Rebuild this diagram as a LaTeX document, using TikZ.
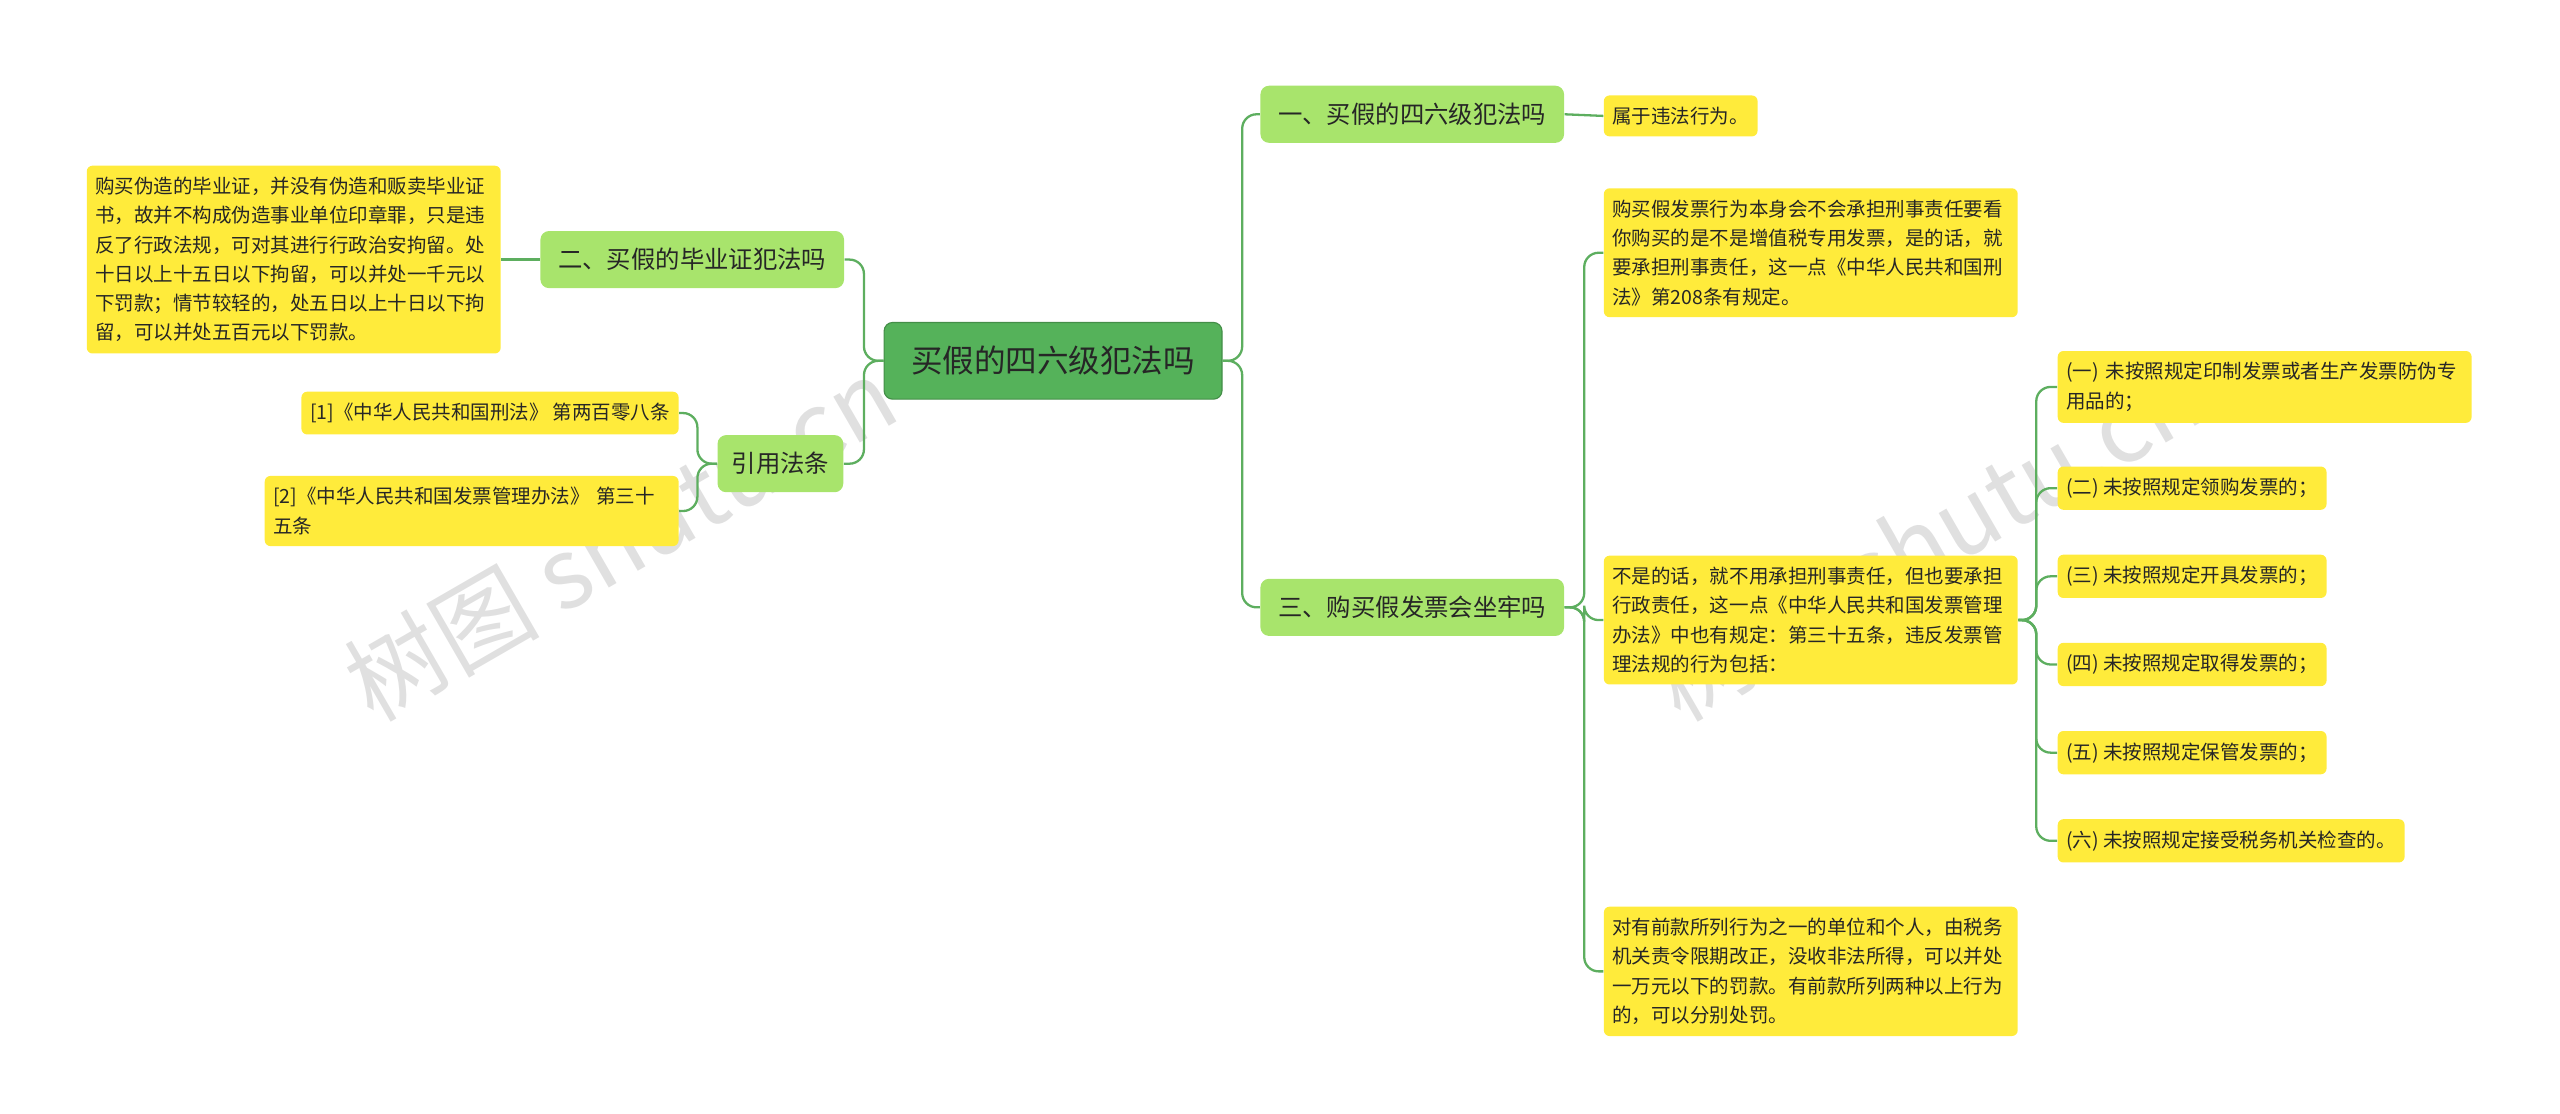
\documentclass[tikz,border=0pt]{standalone}
\usepackage{fontspec}
\setmainfont{Noto Sans CJK SC}
\usetikzlibrary{positioning}
\definecolor{rootgreen}{HTML}{55B25A}
\definecolor{subgreen}{HTML}{A8E46C}
\definecolor{leafyellow}{HTML}{FFEB3B}
\definecolor{linkgreen}{HTML}{5DAE5F}
\begin{document}
\begin{tikzpicture}[x=0.02cm,y=-0.02cm,font=\fontsize{6.8pt}{10.2pt}\selectfont]

        % Setup the styles for the boxes
        \tikzset{root box/.style={draw=rootgreen!80!black, fill=rootgreen, rounded corners=3pt,
                                  minimum width=4.14cm, minimum height=0.94cm,
                                  font=\fontsize{11pt}{13pt}\selectfont, text=black!85},
                 sub box/.style={fill=subgreen, rounded corners=3pt, minimum height=0.7cm,
                                 inner xsep=4pt, font=\fontsize{8.5pt}{10pt}\selectfont, text=black!85},
                 leaf box/.style={fill=leafyellow, rounded corners=2pt, inner xsep=3pt, inner ysep=4pt,
                                  align=left, text=black!85},
                 big box/.style={leaf box, text width=4.86cm},
                 link/.style={draw=linkgreen, line width=0.8pt, rounded corners=5pt}}

        \useasboundingbox (0,0) rectangle (1568,682);

        % Watermarks
        \node[text=black!12, rotate=30, font=\fontsize{34pt}{34pt}\selectfont] at (380,330) {树图 shutu.cn};
        \node[text=black!12, rotate=30, font=\fontsize{34pt}{34pt}\selectfont] at (1180,330) {树图 shutu.cn};

        % Draw the boxes
        \node[root box] at (645,221) (root) {买假的四六级犯法吗};

        \node[sub box, minimum width=3.72cm] at (865,70)  (q1) {一、买假的四六级犯法吗};
        \node[sub box, minimum width=3.72cm] at (865,372) (q3) {三、购买假发票会坐牢吗};
        \node[sub box, minimum width=3.72cm] at (424,159) (q2) {二、买假的毕业证犯法吗};
        \node[sub box, minimum width=1.54cm] at (478,284) (law) {引用法条};

        \node[leaf box, anchor=west] at (982,71) (a1) {属于违法行为。};

        \node[big box, anchor=north west] at (982,115) (a3a) {购买假发票行为本身会不会承担刑事责任要看\\你购买的是不是增值税专用发票，是的话，就\\要承担刑事责任，这一点《中华人民共和国刑\\法》第208条有规定。};
        \node[big box, anchor=north west] at (982,340) (a3b) {不是的话，就不用承担刑事责任，但也要承担\\行政责任，这一点《中华人民共和国发票管理\\办法》中也有规定：第三十五条，违反发票管\\理法规的行为包括：};
        \node[big box, anchor=north west] at (982,555) (a3c) {对有前款所列行为之一的单位和个人，由税务\\机关责令限期改正，没收非法所得，可以并处\\一万元以下的罚款。有前款所列两种以上行为\\的，可以分别处罚。};

        \node[big box, anchor=west] at (1260,237) (b1) {(一) 未按照规定印制发票或者生产发票防伪专\\用品的；};
        \node[leaf box, anchor=west] at (1260,299) (b2) {(二) 未按照规定领购发票的；};
        \node[leaf box, anchor=west] at (1260,353) (b3) {(三) 未按照规定开具发票的；};
        \node[leaf box, anchor=west] at (1260,407) (b4) {(四) 未按照规定取得发票的；};
        \node[leaf box, anchor=west] at (1260,461) (b5) {(五) 未按照规定保管发票的；};
        \node[leaf box, anchor=west] at (1260,515) (b6) {(六) 未按照规定接受税务机关检查的。};

        \node[big box, anchor=east] at (307,159) (a2) {购买伪造的毕业证，并没有伪造和贩卖毕业证\\书，故并不构成伪造事业单位印章罪，只是违\\反了行政法规，可对其进行行政治安拘留。处\\十日以上十五日以下拘留，可以并处一千元以\\下罚款；情节较轻的，处五日以上十日以下拘\\留，可以并处五百元以下罚款。};

        \node[leaf box, anchor=east] at (416,253) (l1) {[1]《中华人民共和国刑法》 第两百零八条};
        \node[big box, anchor=east] at (416,313) (l2) {[2]《中华人民共和国发票管理办法》 第三十\\五条};

        % Connect the boxes
        \foreach \c in {q1,q3}
            \draw[link] (root.east) -- ++(12,0) |- (\c.west);
        \foreach \c in {q2,law}
            \draw[link] (root.west) -- ++(-12,0) |- (\c.east);
        \draw[link] (q1.east) -- (a1.west);
        \foreach \c in {a3a,a3b,a3c}
            \draw[link] (q3.east) -- ++(12,0) |- (\c.west);
        \foreach \c in {b1,b2,b3,b4,b5,b6}
            \draw[link] (a3b.east) -- ++(11,0) |- (\c.west);
        \draw[link] (q2.west) -- (a2.east);
        \foreach \c in {l1,l2}
            \draw[link] (law.west) -- ++(-12,0) |- (\c.east);
\end{tikzpicture}
\end{document}
